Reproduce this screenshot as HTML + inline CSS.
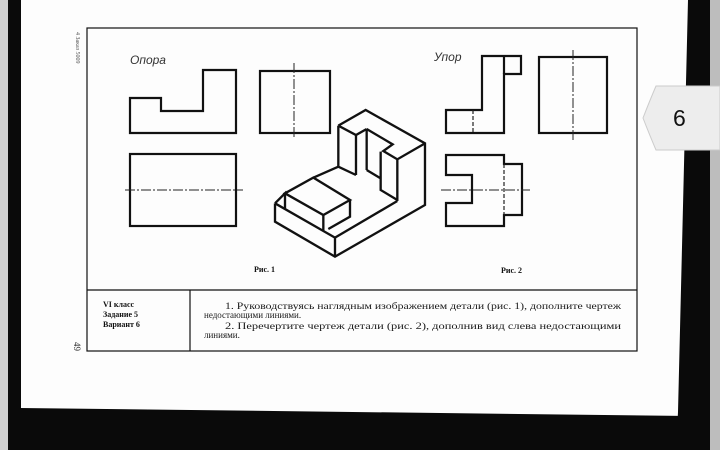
<!DOCTYPE html>
<html><head><meta charset="utf-8"><style>
html,body{margin:0;padding:0;width:720px;height:450px;overflow:hidden;background:#fff}
svg{display:block}
text{font-family:"Liberation Serif",serif}
</style></head><body>
<svg width="720" height="450" viewBox="0 0 720 450" xmlns="http://www.w3.org/2000/svg">
<rect width="720" height="450" fill="#fdfdfd"/>
<rect x="0" y="0" width="8" height="450" fill="#cfcfcf"/>
<rect x="8" y="0" width="13" height="450" fill="#0a0a0a"/>
<polygon points="688,0 710,0 710,450 676,450 678,412" fill="#0a0a0a"/>
<rect x="710" y="0" width="10" height="450" fill="#bdbdbd"/>
<polygon points="20,408 690,416 690,450 20,450" fill="#0a0a0a"/>
<g fill="none" stroke="#111" stroke-width="1.2">
<rect x="87" y="28" width="550" height="323"/>
<line x1="87" y1="290" x2="637" y2="290"/>
<line x1="190" y1="290" x2="190" y2="351"/>
</g>
<g fill="none" stroke="#111" stroke-width="2.2">
<polygon points="130,98 161,98 161,111 203,111 203,70 236,70 236,133 130,133"/>
<rect x="260" y="71" width="70" height="62"/>
<rect x="130" y="154" width="106" height="72"/>
<polygon points="446,133 446,110 482,110 482,56 521,56 521,74 504,74 504,133"/>
<line x1="504" y1="56" x2="504" y2="74"/>
<rect x="539" y="57" width="68" height="76"/>
<polygon points="446,155 504,155 504,164 522,164 522,215 504,215 504,226 446,226 446,203 472,203 472,175 446,175"/>
</g>
<g fill="none" stroke="#222" stroke-width="1" stroke-dasharray="10,2,2,2">
<line x1="294" y1="63" x2="294" y2="137"/>
<line x1="125" y1="190" x2="243" y2="190"/>
<line x1="573" y1="50" x2="573" y2="140"/>
<line x1="441" y1="190" x2="530" y2="190"/>
</g>
<g fill="none" stroke="#222" stroke-width="1.2" stroke-dasharray="4,2">
<line x1="473" y1="110" x2="473" y2="133"/>
<line x1="504" y1="164" x2="504" y2="215"/>
</g>
<g transform="translate(270,105) scale(0.3333)" fill="none" stroke="#111" stroke-width="7" stroke-linejoin="miter">
<polyline points="205,62 287,15 465,115 465,300 195,455 15,350 15,295"/>
<polyline points="15,295 195,398 195,455"/>
<line x1="195" y1="398" x2="382" y2="288"/>
<polyline points="15,295 45,265 45,310"/>
<polygon points="45,265 130,218 240,285 160,330"/>
<line x1="160" y1="330" x2="160" y2="378"/>
<polyline points="240,285 240,335 175,372"/>
<line x1="130" y1="218" x2="205" y2="185"/>
<line x1="205" y1="62" x2="205" y2="185"/>
<line x1="205" y1="185" x2="258" y2="210"/>
<polyline points="205,62 258,90 290,72"/>
<line x1="258" y1="90" x2="258" y2="210"/>
<line x1="290" y1="72" x2="290" y2="195"/>
<line x1="290" y1="195" x2="332" y2="220"/>
<polyline points="290,72 368,118 340,138 382,163 465,115"/>
<polyline points="332,140 332,255 382,285"/>
<line x1="382" y1="163" x2="382" y2="288"/>
</g>
<g fill="#333" font-style="italic" font-size="12">
<text x="130" y="64" style="font-family:'Liberation Sans',sans-serif">Опора</text>
<text x="434" y="61" style="font-family:'Liberation Sans',sans-serif">Упор</text>
</g>
<text x="254" y="272" font-size="8" font-weight="bold" fill="#111">Рис. 1</text>
<text x="501" y="273" font-size="8" font-weight="bold" fill="#111">Рис. 2</text>
<g font-size="8" font-weight="bold" fill="#111">
<text x="103" y="307">VI класс</text>
<text x="103" y="317">Задание 5</text>
<text x="103" y="327">Вариант 6</text>
</g>
<g font-size="9" fill="#1a1a1a">
<text x="225" y="309" textLength="396" lengthAdjust="spacingAndGlyphs">1. Руководствуясь наглядным изображением детали (рис. 1), дополните чертеж</text>
<text x="204" y="318">недостающими линиями.</text>
<text x="225" y="329" textLength="396" lengthAdjust="spacingAndGlyphs">2. Перечертите чертеж детали (рис. 2), дополнив вид слева недостающими</text>
<text x="204" y="338">линиями.</text>
</g>
<text transform="translate(76,32) rotate(90)" font-size="6" fill="#555">4 Заказ 5009</text>
<text transform="translate(74,342) rotate(90)" font-size="9" fill="#333">49</text>
<path d="M656,86 L720,86 L720,150 L656,150 Q650,136 643,118 Q650,100 656,86 Z" fill="#ededed" stroke="#ccc" stroke-width="1"/>
<text x="673" y="126" font-size="23" style="font-family:'Liberation Sans',sans-serif" fill="#111">6</text>
</svg>
</body></html>
